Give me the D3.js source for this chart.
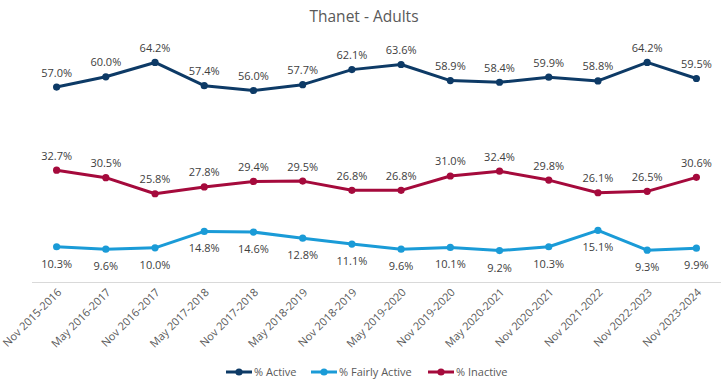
<!DOCTYPE html>
<html>
<head>
<meta charset="utf-8">
<script src="https://cdn.jsdelivr.net/npm/d3@7"></script>
<style>
  body { margin: 0; background: #fff; }
  text { font-family: "Open Sans", sans-serif; }
</style>
</head>
<body>
<script>
'use strict';

// 数据
const periods = ['Nov 2015-2016', 'May 2016-2017', 'Nov 2016-2017', 'May 2017-2018', 'Nov 2017-2018',
  'May 2018-2019', 'Nov 2018-2019', 'May 2019-2020', 'Nov 2019-2020', 'May 2020-2021',
  'Nov 2020-2021', 'Nov 2021-2022', 'Nov 2022-2023', 'Nov 2023-2024'];
const active = [57.0, 60.0, 64.2, 57.4, 56.0, 57.7, 62.1, 63.6, 58.9, 58.4, 59.9, 58.8, 64.2, 59.5];
const fairlyActive = [10.3, 9.6, 10.0, 14.8, 14.6, 12.8, 11.1, 9.6, 10.1, 9.2, 10.3, 15.1, 9.3, 9.9];
const inactive = [32.7, 30.5, 25.8, 27.8, 29.4, 29.5, 26.8, 26.8, 31.0, 32.4, 29.8, 26.1, 26.5, 30.6];

const series = [
  {name: '% Active', values: active, color: '#0d3a66', labelPos: 'above'},
  {name: '% Fairly Active', values: fairlyActive, color: '#1a9bd7', labelPos: 'below'},
  {name: '% Inactive', values: inactive, color: '#a50a3c', labelPos: 'above'}
];

const width = 721, height = 385;
const margin = {top: 42.6, right: 0, bottom: 103, left: 32};

const svg = d3.select('body').append('svg')
  .attr('width', width)
  .attr('height', height);

// 比例尺
const x = d3.scalePoint()
  .domain(periods)
  .range([margin.left, width - margin.right])
  .padding(0.5);

const y = d3.scaleLinear()
  .domain([0, 70])
  .range([height - margin.bottom, margin.top]);

// 标题
svg.append('text')
  .attr('x', 364)
  .attr('y', 22)
  .attr('text-anchor', 'middle')
  .attr('font-size', 15.5)
  .attr('fill', '#595959')
  .text('Thanet - Adults');

// x轴
const xAxis = svg.append('g')
  .attr('transform', `translate(0,${y(0)})`)
  .call(d3.axisBottom(x).tickSize(0).tickPadding(0));
xAxis.select('.domain')
  .attr('stroke', '#d9d9d9')
  .attr('d', `M${margin.left},0.5H${width}`);
xAxis.selectAll('text')
  .attr('font-size', 11)
  .attr('fill', '#595959')
  .attr('text-anchor', 'end')
  .attr('dy', null)
  .attr('y', null)
  .attr('transform', 'translate(5,11) rotate(-45)');

// 折线
const line = d3.line()
  .x((d, i) => x(periods[i]))
  .y(d => y(d));

series.forEach(s => {
  const g = svg.append('g');
  g.append('path')
    .datum(s.values)
    .attr('d', line)
    .attr('fill', 'none')
    .attr('stroke', s.color)
    .attr('stroke-width', 3)
    .attr('stroke-linejoin', 'round');

  g.selectAll('circle')
    .data(s.values)
    .enter()
    .append('circle')
    .attr('cx', (d, i) => x(periods[i]))
    .attr('cy', d => y(d))
    .attr('r', 3.6)
    .attr('fill', s.color);

  g.selectAll('text')
    .data(s.values)
    .enter()
    .append('text')
    .attr('x', (d, i) => x(periods[i]))
    .attr('y', d => s.labelPos === 'above' ? y(d) - 10.5 : y(d) + 21)
    .attr('text-anchor', 'middle')
    .attr('font-size', 11)
    .attr('fill', '#404040')
    .text(d => d.toFixed(1) + '%');
});

// 图例
const legendX = [226, 311, 428];
const legend = svg.append('g')
  .selectAll('g')
  .data(series)
  .enter()
  .append('g')
  .attr('transform', (d, i) => `translate(${legendX[i]},372)`);

legend.append('line')
  .attr('x1', 0)
  .attr('x2', 26)
  .attr('stroke', d => d.color)
  .attr('stroke-width', 3);
legend.append('circle')
  .attr('cx', 13)
  .attr('r', 3.6)
  .attr('fill', d => d.color);
legend.append('text')
  .attr('x', 28)
  .attr('y', 4)
  .attr('font-size', 11)
  .attr('fill', '#595959')
  .text(d => d.name);
</script>
</body>
</html>
